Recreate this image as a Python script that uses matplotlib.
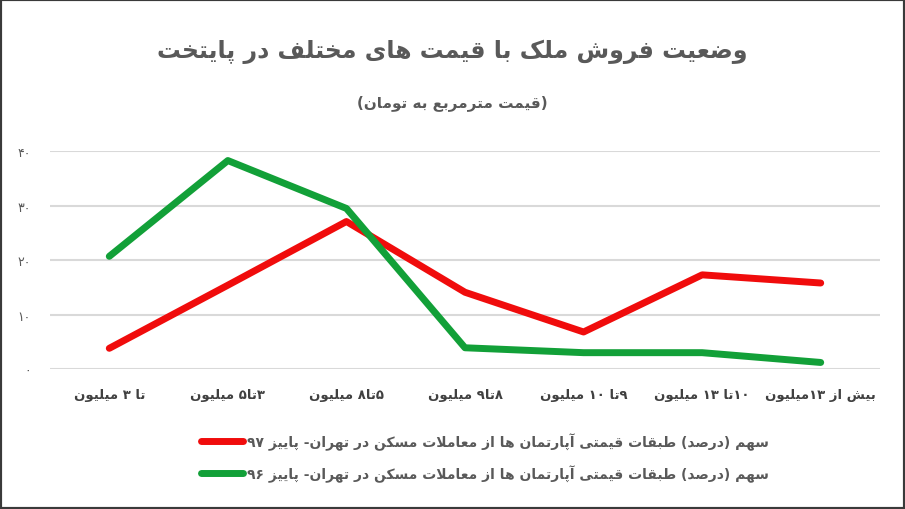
import re
import numpy as np
import matplotlib
matplotlib.use("Agg")
import matplotlib.pyplot as plt
from matplotlib.patches import Rectangle

# data
categories = ["تا ۳ میلیون", "۳تا۵ میلیون", "۵تا۸ میلیون", "۸تا۹ میلیون",
              "۹تا ۱۰ میلیون", "۱۰تا ۱۳ میلیون", "بیش از ۱۳میلیون"]
share_97 = [3.8, 15.4, 27.1, 14.1, 6.8, 17.3, 15.8]
share_96 = [20.7, 38.3, 29.5, 3.9, 3.0, 3.0, 1.2]
y_ticks = [0, 10, 20, 30, 40]
y_tick_labels = ["۰", "۱۰", "۲۰", "۳۰", "۴۰"]
label_97 = "سهم (درصد) طبقات قیمتی آپارتمان ها از معاملات مسکن در تهران- پاییز ۹۷"
label_96 = "سهم (درصد) طبقات قیمتی آپارتمان ها از معاملات مسکن در تهران- پاییز ۹۶"
title = "وضعیت فروش ملک با قیمت های مختلف در پایتخت"
subtitle = "(قیمت مترمربع به تومان)"

# small persian shaper: matplotlib has no text shaping / bidi
DUAL = {'ب': 0xFE8F, 'ت': 0xFE95, 'ث': 0xFE99, 'ج': 0xFE9D, 'ح': 0xFEA1,
        'خ': 0xFEA5, 'س': 0xFEB1, 'ش': 0xFEB5, 'ص': 0xFEB9, 'ض': 0xFEBD,
        'ط': 0xFEC1, 'ظ': 0xFEC5, 'ع': 0xFEC9, 'غ': 0xFECD, 'ف': 0xFED1,
        'ق': 0xFED5, 'ل': 0xFEDD, 'م': 0xFEE1, 'ن': 0xFEE5, 'ه': 0xFEE9,
        'پ': 0xFB56, 'چ': 0xFB7A, 'ک': 0xFB8E, 'گ': 0xFB92, 'ی': 0xFBFC,
        'ي': 0xFEF1, 'ك': 0xFED9}
RIGHT = {'ا': 0xFE8D, 'آ': 0xFE81, 'د': 0xFEA9, 'ذ': 0xFEAB, 'ر': 0xFEAD,
         'ز': 0xFEAF, 'ژ': 0xFB8A, 'و': 0xFEED}


def shape(s):
    out = []
    i = 0
    n = len(s)
    while i < n:
        c = s[i]
        prev = i > 0 and s[i-1] in DUAL
        if c == 'ل' and i+1 < n and s[i+1] in 'اآ':
            base = 0xFEFB if s[i+1] == 'ا' else 0xFEF5
            out.append(chr(base + (1 if prev else 0)))
            i += 2
            continue
        if c in DUAL:
            nxt = i+1 < n and (s[i+1] in DUAL or s[i+1] in RIGHT)
            off = 3 if prev and nxt else 1 if prev else 2 if nxt else 0
            out.append(chr(DUAL[c] + off))
        elif c in RIGHT:
            out.append(chr(RIGHT[c] + (1 if prev else 0)))
        else:
            out.append(c)
        i += 1
    return ''.join(out)


def fa(s):
    t = shape(s)[::-1]
    t = t.translate(str.maketrans('()', ')('))
    t = re.sub(r'[0-9۰-۹]+', lambda m: m.group(0)[::-1], t)
    return t


plt.rcParams['font.family'] = ['DejaVu Sans']

fig = plt.figure(figsize=(9.05, 5.1), dpi=100, facecolor="white")
ax = fig.add_axes([50/905, 140/510, 830/905, 217.7/510])

x = np.arange(len(categories))
ax.plot(x, share_97, color="#f00c0c", lw=5, solid_capstyle="round",
        solid_joinstyle="round", label=fa(label_97))
ax.plot(x, share_96, color="#12a038", lw=5, solid_capstyle="round",
        solid_joinstyle="round", label=fa(label_96))

ax.set_xlim(-0.5, len(categories) - 0.5)
ax.set_ylim(0, 40)
ax.set_yticks(y_ticks)
ax.set_yticklabels(y_tick_labels, color="#595959", fontsize=9)
ax.set_xticks(x)
ax.set_xticklabels([fa(c) for c in categories], color="#404040",
                   fontsize=9.5, fontweight="bold")
ax.tick_params(axis="both", length=0)
ax.tick_params(axis="y", pad=14)
ax.tick_params(axis="x", pad=14)
ax.grid(axis="y", color="#d9d9d9", lw=1.5)
ax.set_axisbelow(True)
for s in ax.spines.values():
    s.set_visible(False)

fig.text(0.5, 1 - 52/510, fa(title), ha="center", va="center",
         fontsize=17, fontweight="bold", color="#595959")
fig.text(0.5, 1 - 103/510, fa(subtitle), ha="center", va="center",
         fontsize=11, fontweight="bold", color="#595959")

leg = fig.legend(loc="center", bbox_to_anchor=(485/905, 1 - 458/510),
                 frameon=False, fontsize=10, handlelength=3.0,
                 handletextpad=0.3, labelspacing=1.0)
for t in leg.get_texts():
    t.set_color("#595959")
    t.set_fontweight("bold")

fig.patches.append(Rectangle((0, 0), 1, 1, transform=fig.transFigure,
                             fill=False, edgecolor="#3a3a3a", lw=3))

fig.savefig("out.png", dpi=100, facecolor="white")
